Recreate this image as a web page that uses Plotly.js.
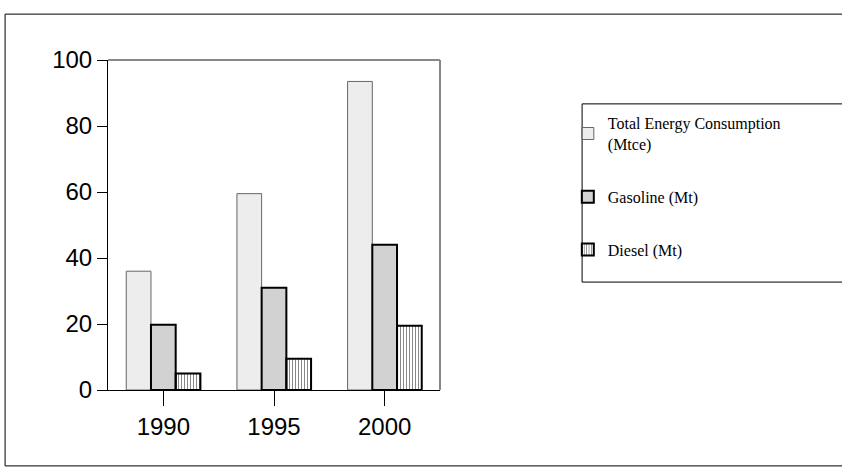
<!DOCTYPE html>
<html>
<head>
<script src="https://cdn.plot.ly/plotly-3.0.1.min.js"></script>
<style>body{margin:0;background:#fff}</style>
</head>
<body>
<div id="myChart" style="width:842px;height:472px"></div>
<script>
var years = ['1990', '1995', '2000'];
var totalEnergy = [36, 59.5, 93.5];
var gasoline = [19.8, 31, 44];
var diesel = [5, 9.5, 19.5];

var data = [
    {x: years, y: totalEnergy, type: 'bar', name: 'Total Energy Consumption<br>(Mtce)', legendgroup: 'a',
     marker: {color: '#f4f4f4', pattern: {shape: '.', fgcolor: '#d0d0d0', size: 2, solidity: 0.4}, line: {color: '#666', width: 1}}},
    {x: years, y: gasoline, type: 'bar', name: 'Gasoline (Mt)', legendgroup: 'b',
     marker: {color: '#c4c4c4', pattern: {shape: '.', fgcolor: '#999', size: 2, solidity: 0.5}, line: {color: '#000', width: 2}}},
    {x: years, y: diesel, type: 'bar', name: 'Diesel (Mt)', legendgroup: 'c',
     marker: {color: '#e4e4e4', pattern: {shape: '|', fgcolor: '#888', size: 3, solidity: 0.35}, line: {color: '#000', width: 2}}}
];

var layout = {
    width: 842, height: 472,
    margin: {l: 108, r: 402, t: 60, b: 82},
    paper_bgcolor: '#fff', plot_bgcolor: '#fff',
    bargap: 0.33, bargroupgap: 0,
    showlegend: true,
    legend: {x: 1.385, y: 0.86, xanchor: 'left', yanchor: 'top', borderwidth: 0, bgcolor: 'rgba(0,0,0,0)',
             tracegroupgap: 29, itemwidth: 30, font: {family: 'Liberation Serif, Times New Roman', size: 16, color: '#000'}},
    xaxis: {showline: true, linecolor: '#000', linewidth: 1, ticks: 'outside', tickson: 'boundaries', ticklen: 15,
            tickcolor: '#000', showgrid: false, tickfont: {family: 'Liberation Sans, Arial', size: 24, color: '#000'}},
    yaxis: {range: [0, 100], dtick: 20, showline: true, linecolor: '#000', ticks: 'outside', ticklen: 10,
            tickcolor: '#000', showgrid: false, zeroline: false, tickfont: {family: 'Liberation Sans, Arial', size: 24, color: '#000'}},
    shapes: [
        {type: 'line', xref: 'paper', yref: 'paper', x0: 0, x1: 1, y0: 1, y1: 1, line: {color: '#888', width: 2}},
        {type: 'line', xref: 'paper', yref: 'paper', x0: 1, x1: 1, y0: 0, y1: 1, line: {color: '#888', width: 2}},
        {type: 'rect', xref: 'paper', yref: 'paper', x0: 1.428, x1: 2.3, y0: 0.327, y1: 0.867, line: {color: '#000', width: 1}},
        {type: 'rect', xref: 'paper', yref: 'paper', x0: -0.31, x1: 2.3, y0: -0.23, y1: 1.139, line: {color: '#000', width: 1}}
    ]
};

Plotly.newPlot('myChart', data, layout, {displayModeBar: false});
</script>
</body>
</html>
